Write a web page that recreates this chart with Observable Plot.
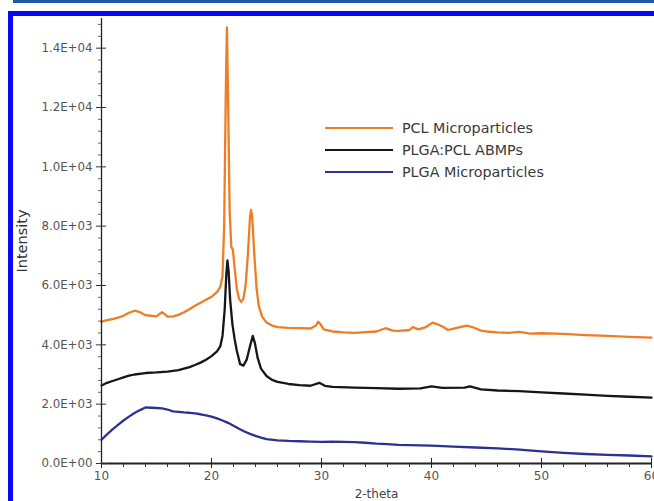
<!DOCTYPE html>
<html>
<head>
<meta charset="utf-8">
<script src="https://cdn.jsdelivr.net/npm/d3@7"></script>
<script src="https://cdn.jsdelivr.net/npm/@observablehq/plot@0.6"></script>
<style>
  html, body { margin: 0; padding: 0; background: #fff; }
  #wrap { position: relative; width: 654px; height: 501px; overflow: hidden; background: #fff; font-family: "DejaVu Sans", Verdana, sans-serif; }
  #chart { position: absolute; left: 0; top: 0; }
  #chart svg { font-family: "DejaVu Sans", Verdana, sans-serif !important; }
  #chart g[aria-label="y-axis tick label"] { font-size: 11.8px !important; }
  #chart g[aria-label="x-axis tick label"] { font-size: 12px !important; }
  #chart g[aria-label="y-axis label"] { font-size: 14.5px !important; }
  #chart g[aria-label="x-axis label"] { font-size: 12px !important; }
  .bar { position: absolute; }
  #legend { position: absolute; left: 325px; top: 117px; }
  .item { position: relative; height: 22px; display: flex; align-items: center; }
  .swatch { width: 68px; height: 0; border-top: 2.5px solid; margin-right: 9px; }
  .lab { font-size: 14.3px; color: #3a3a3a; white-space: nowrap; }
</style>
</head>
<body>
<div id="wrap">
  <div id="chart"></div>
  <div class="bar" style="left:13px;top:0;width:641px;height:3px;background:#1f5aa6"></div>
  <div class="bar" style="left:8px;top:11px;width:646px;height:5px;background:#0a0af2"></div>
  <div class="bar" style="left:8px;top:11px;width:5px;height:490px;background:#0a0af2"></div>
  <div id="legend"></div>
</div>
<script>
// Series names and colours
const seriesNames = ["PCL Microparticles", "PLGA:PCL ABMPs", "PLGA Microparticles"];
const seriesColors = ["#ef7d26", "#161616", "#2e3192"];

// PCL Microparticles (2-theta, intensity)
const pclX = [10,10.5,11,11.5,12,12.5,13,13.5,14,14.5,15,15.5,15.8,16,16.5,17,17.5,18,18.5,19,19.5,20,20.5,20.8,21.0,21.15,21.3,21.4,21.5,21.65,21.8,21.95,22.1,22.3,22.5,22.7,22.9,23.1,23.3,23.5,23.6,23.7,23.9,24.1,24.3,24.6,25,25.5,26,27,28,29,29.5,29.7,29.9,30.2,31,32,33,34,35,35.8,36.5,37,38,38.3,38.8,39.5,40.1,40.5,41,41.5,42,43.2,43.7,44.5,45,46,47,48,49,50,52,54,56,58,60];
const pclY = [4780,4830,4870,4920,4980,5080,5150,5100,5000,4980,4960,5100,5020,4950,4960,5010,5100,5200,5320,5420,5520,5620,5780,5950,6300,8000,12500,14700,12500,8500,7300,7200,6600,5900,5550,5450,5550,6000,7000,8300,8550,8300,7000,5900,5300,4950,4750,4650,4600,4570,4560,4550,4650,4780,4700,4520,4450,4420,4400,4430,4450,4560,4480,4470,4500,4600,4520,4600,4750,4700,4620,4500,4550,4650,4600,4480,4450,4420,4400,4440,4380,4390,4370,4330,4300,4270,4240];

// PLGA:PCL ABMPs
const blendX = [10,10.5,11,11.5,12,12.5,13,14,15,16,17,18,18.5,19,19.5,20,20.5,20.8,21.0,21.2,21.35,21.45,21.55,21.7,21.9,22.1,22.3,22.6,22.9,23.2,23.5,23.75,23.95,24.2,24.5,25,25.5,26,27,28,29,29.8,30.3,31,33,35,37,39,40,41,43,43.5,44.5,46,48,50,52,54,56,58,60];
const blendY = [2630,2720,2780,2840,2900,2960,3000,3050,3070,3100,3150,3250,3320,3400,3500,3620,3780,3950,4300,5200,6400,6850,6500,5500,4700,4200,3800,3350,3300,3500,3950,4300,4050,3550,3200,2950,2820,2750,2680,2640,2620,2720,2620,2580,2560,2540,2520,2530,2600,2550,2560,2600,2500,2460,2440,2400,2360,2320,2280,2250,2220];

// PLGA Microparticles
const plgaX = [10,10.5,11,11.5,12,12.5,13,13.5,14,14.5,15,15.5,16,16.5,17,17.5,18,18.5,19,19.5,20,20.5,21,21.5,22,22.5,23,23.5,24,24.5,25,26,27,28,29,30,31,32,33,34,35,36,37,38,40,42,44,46,48,50,52,54,56,58,60];
const plgaY = [800,980,1150,1300,1450,1580,1700,1800,1890,1880,1870,1860,1820,1760,1740,1720,1710,1690,1660,1620,1580,1520,1450,1370,1270,1170,1080,1000,930,870,820,780,760,750,740,730,740,730,720,700,670,650,630,620,600,570,540,510,470,410,360,320,290,270,240];

// Axis ticks
const xMajor = [10,20,30,40,50,60];
const xMinor = d3.range(12, 60, 2).filter(v => v % 10 !== 0);
const yMajor = [0,2000,4000,6000,8000,10000,12000,14000];
const yMinor = d3.range(400, 15000, 400).filter(v => v % 2000 !== 0);

const series = [[pclX, pclY], [blendX, blendY], [plgaX, plgaY]];
const rows = series.flatMap(([xs, ys], i) => xs.map((x, j) => ({x, y: ys[j], s: seriesNames[i]})));

function sci(d) {
  const [m, e] = d.toExponential(1).split("e");
  const n = Math.abs(+e);
  return m + "E" + (+e < 0 ? "-" : "+") + String(n).padStart(2, "0");
}

const chart = Plot.plot({
  width: 654,
  height: 501,
  marginLeft: 101,
  marginRight: 3,
  marginTop: 18,
  marginBottom: 38,
  style: {fontFamily: "'DejaVu Sans', Verdana, sans-serif", background: "transparent"},
  x: {domain: [10, 60]},
  y: {domain: [0, 15000]},
  color: {domain: seriesNames, range: seriesColors},
  marks: [
    Plot.line(rows, {x: "x", y: "y", z: "s", stroke: "s", strokeWidth: 2.3, strokeLinejoin: "round"}),
    Plot.ruleX([10], {stroke: "#222", strokeWidth: 1.3}),
    Plot.ruleY([0], {stroke: "#222", strokeWidth: 2}),
    Plot.axisY(yMajor, {tickFormat: sci, tickSize: 5, tickPadding: 4, fontSize: 11.8, fill: "#555", stroke: "#333", label: null}),
    Plot.axisY({label: "Intensity", labelAnchor: "center", labelArrow: "none", labelOffset: 85, ticks: [], fontSize: 14.5, fill: "#333"}),
    Plot.axisY(yMajor, {tickFormat: () => "", tickSize: -5, stroke: "#333", label: null}),
    Plot.axisY(yMinor, {tickFormat: () => "", tickSize: 3, stroke: "#666", label: null}),
    Plot.axisX(xMajor, {tickSize: 5, tickPadding: 3, fontSize: 12, fill: "#555", stroke: "#222", label: null}),
    Plot.axisX({label: "2-theta", labelAnchor: "center", labelArrow: "none", labelOffset: 34, ticks: [], fontSize: 12, fill: "#444"}),
    Plot.axisX(xMajor, {tickFormat: () => "", tickSize: -5, stroke: "#222", label: null}),
    Plot.axisX(xMinor, {tickFormat: () => "", tickSize: 4, stroke: "#333", label: null})
  ]
});
document.getElementById("chart").appendChild(chart);

const legend = document.getElementById("legend");
seriesNames.forEach((name, i) => {
  const item = document.createElement("div");
  item.className = "item";
  item.innerHTML = `<div class="swatch" style="border-color:${seriesColors[i]}"></div><div class="lab">${name}</div>`;
  legend.appendChild(item);
});
</script>
</body>
</html>
